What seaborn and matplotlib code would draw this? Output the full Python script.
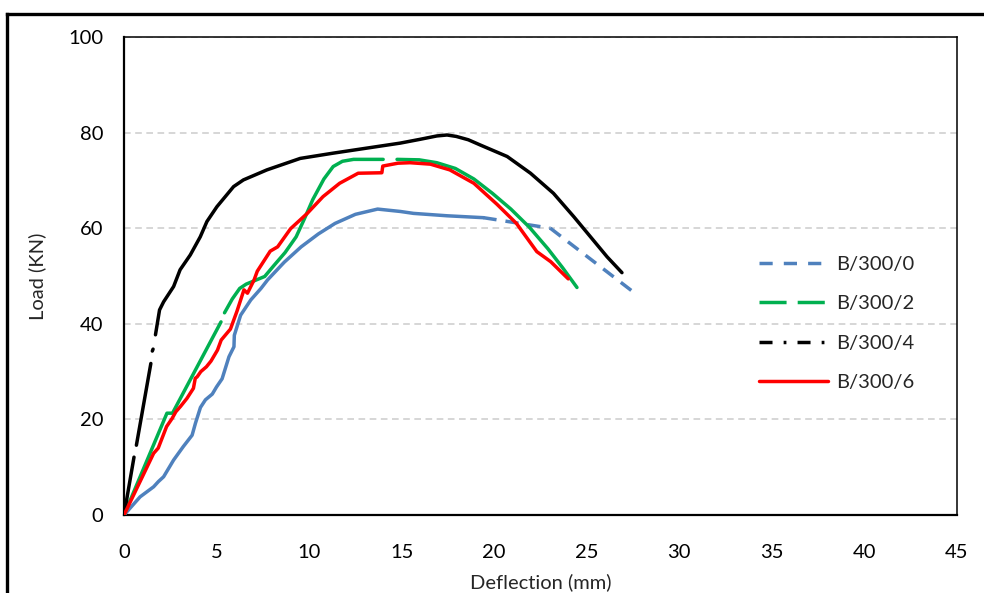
import matplotlib
matplotlib.use("Agg")
import matplotlib.pyplot as plt
import seaborn as sns
import pandas as pd
from matplotlib.lines import Line2D

# ---------------- data ----------------
SPECIMENS = ["B/300/0", "B/300/2", "B/300/4", "B/300/6"]

# B/300/0  (dense part solid, sparse tail drawn dashed)
B0_x = [0, 0.87, 1.6, 1.86, 2.14, 2.68, 3.2, 3.68, 3.86, 4.13, 4.4, 4.77, 5.0, 5.3, 5.67,
        5.94, 5.96, 6.3, 6.85, 7.4, 7.76, 8.66, 9.57, 10.5, 11.4, 12.5, 13.7, 14.93,
        15.64, 17.45, 19.42,
        19.42, 23.03,
        23.03, 27.6]
B0_y = [0, 3.8, 5.9, 7.0, 8.0, 11.5, 14.3, 16.7, 19.2, 22.5, 24.1, 25.3, 26.8, 28.5, 33.1,
        35.2, 37.6, 41.8, 45.0, 47.4, 49.2, 52.9, 56.1, 58.8, 61.0, 62.9, 64.0, 63.5,
        63.1, 62.6, 62.2,
        62.2, 60.0,
        60.0, 46.4]
B0_piece = ["a"] * 31 + ["t1"] * 2 + ["t2"] * 2

# B/300/2
B2_x = [0, 2.32, 2.62, 5.24,
        5.43, 5.85, 6.25, 6.6, 7.6, 8.1, 8.7, 9.3, 9.75, 10.2, 10.8, 11.3, 11.8, 12.4, 14.0,
        14.75, 15.95, 16.9, 17.9, 18.9, 19.9, 20.9, 21.9, 22.9, 23.7, 24.47]
B2_y = [0, 21.3, 21.3, 40.4,
        42.3, 45.2, 47.4, 48.3, 49.9, 52.2, 54.9, 58.2, 62.0, 66.0, 70.3, 72.9, 74.0, 74.4, 74.4,
        74.4, 74.3, 73.7, 72.5, 70.3, 67.3, 64.0, 60.2, 55.7, 51.7, 47.6]
B2_piece = ["a"] * 4 + ["b"] * 15 + ["c"] * 11

# B/300/4
B4_x = [0, 0.54,
        0.67, 1.45,
        1.53, 1.57,
        1.70, 1.92, 2.14, 2.68, 3.03, 3.58, 4.12, 4.48, 5.02, 5.92, 6.45, 7.72, 9.52, 11.3,
        14.92, 16.0, 16.9, 17.45, 17.95, 18.6, 19.25, 20.7, 21.96, 23.2, 24.3, 25.2, 26.1, 26.9]
B4_y = [0, 12.1,
        14.6, 31.7,
        34.3, 34.7,
        37.7, 42.9, 44.6, 47.8, 51.3, 54.4, 58.2, 61.4, 64.5, 68.7, 70.1, 72.2, 74.6, 75.7,
        77.8, 78.6, 79.3, 79.5, 79.2, 78.5, 77.4, 75.0, 71.5, 67.3, 62.4, 58.2, 54.0, 50.7]
B4_piece = ["a"] * 2 + ["b"] * 2 + ["c"] * 2 + ["d"] * 28

# B/300/6
B6_x = [0, 1.6, 1.85, 2.3, 2.6, 2.8, 3.05, 3.4, 3.75, 3.85, 3.95, 4.15, 4.45, 4.7, 5.05,
        5.25, 5.75, 6.1, 6.48, 6.67, 7.03, 7.2, 7.9, 8.3, 9.0, 9.9, 10.75, 11.65, 12.65,
        13.93, 13.98, 14.8, 15.45, 16.55, 17.6, 18.9, 20.15, 21.2, 22.3, 23.05, 24.0]
B6_y = [0, 12.9, 14.0, 18.5, 20.2, 21.6, 22.7, 24.4, 26.5, 28.6, 28.9, 30.0, 31.0, 32.2, 34.5,
        36.6, 38.9, 42.6, 47.1, 46.4, 49.2, 51.0, 55.2, 56.1, 59.9, 63.1, 66.6, 69.4, 71.5,
        71.6, 73.0, 73.6, 73.7, 73.4, 72.2, 69.4, 65.0, 61.0, 55.1, 53.0, 49.4]
B6_piece = ["a"] * len(B6_x)

X_TICKS = [0, 5, 10, 15, 20, 25, 30, 35, 40, 45]
Y_TICKS = [0, 20, 40, 60, 80, 100]
X_LABEL = "Deflection (mm)"
Y_LABEL = "Load (KN)"

# ---------------- styles ----------------
COLORS = {"B/300/0": "#4F81BD", "B/300/2": "#00B050", "B/300/4": "#000000", "B/300/6": "#FF0000"}
LEGEND_DASH = {"B/300/0": (0, (3.8, 3.2)), "B/300/2": (0, (7.8, 3.2)),
               "B/300/4": (0, (3.75, 3.2, 0.8, 3.2)), "B/300/6": "-"}
DASHED_PIECES = {("B/300/0", "t1"), ("B/300/0", "t2")}
LW = 2.5

series = {"B/300/0": (B0_x, B0_y, B0_piece), "B/300/2": (B2_x, B2_y, B2_piece),
          "B/300/4": (B4_x, B4_y, B4_piece), "B/300/6": (B6_x, B6_y, B6_piece)}

sns.set_style("white")
FONT = ["Lato", "DejaVu Sans"]
plt.rcParams["font.family"] = FONT
FS = 14.5

fig = plt.figure(figsize=(9.84, 5.93), dpi=100)
ax = fig.add_axes([124 / 984, 1 - 515 / 593, (957 - 124) / 984, (515 - 37) / 593])

for name in SPECIMENS:
    xs, ys, pcs = series[name]
    df = pd.DataFrame({"Deflection": xs, "Load": ys, "Piece": pcs})
    df["Stroke"] = ["dashed" if (name, p) in DASHED_PIECES else "solid" for p in df["Piece"]]
    sns.lineplot(data=df, x="Deflection", y="Load", units="Piece", estimator=None, sort=False,
                 style="Stroke", dashes={"solid": "", "dashed": (3.8, 2.6)},
                 color=COLORS[name], linewidth=LW, legend=False, ax=ax, zorder=3)

ax.set_xlim(0, 45)
ax.set_ylim(0, 100)
ax.set_xticks(X_TICKS)
ax.set_yticks(Y_TICKS)
ax.tick_params(axis="both", length=0, labelsize=FS, colors="black")
ax.tick_params(axis="y", pad=15)
ax.tick_params(axis="x", pad=21)
ax.yaxis.grid(True, color="#D0D0D0", linestyle=(0, (4.0, 2.7)), linewidth=1.2, zorder=0)
ax.xaxis.grid(False)
ax.set_axisbelow(True)
for s in ["left", "bottom"]:
    ax.spines[s].set_color("black")
    ax.spines[s].set_linewidth(1.6)
for s in ["top", "right"]:
    ax.spines[s].set_color("black")
    ax.spines[s].set_linewidth(1.1)

ax.set_xlabel(X_LABEL, fontsize=FS)
ax.set_ylabel(Y_LABEL, fontsize=FS)
ax.xaxis.set_label_coords(0.5, -0.122)
ax.yaxis.set_label_coords(-0.094, 0.5)

handles = [Line2D([0], [0], color=COLORS[n], lw=LW, linestyle=LEGEND_DASH[n]) for n in SPECIMENS]
ax.legend(handles, SPECIMENS, loc="upper left", bbox_to_anchor=(759 / 984, 1 - 256 / 593),
          bbox_transform=fig.transFigure, frameon=False, fontsize=FS, handlelength=3.43,
          handletextpad=0.4, labelspacing=1.1, borderpad=0, borderaxespad=0)

# outer chart frame (partly cut off in the reference)
fig.add_artist(Line2D([7 / 984, 7 / 984], [0, 1 - 13.5 / 593], transform=fig.transFigure,
                      color="black", lw=2.4, solid_capstyle="projecting"))
fig.add_artist(Line2D([7 / 984, 1.0], [1 - 13.5 / 593, 1 - 13.5 / 593], transform=fig.transFigure,
                      color="black", lw=2.4, solid_capstyle="projecting"))

fig.savefig("out.png", dpi=100)
